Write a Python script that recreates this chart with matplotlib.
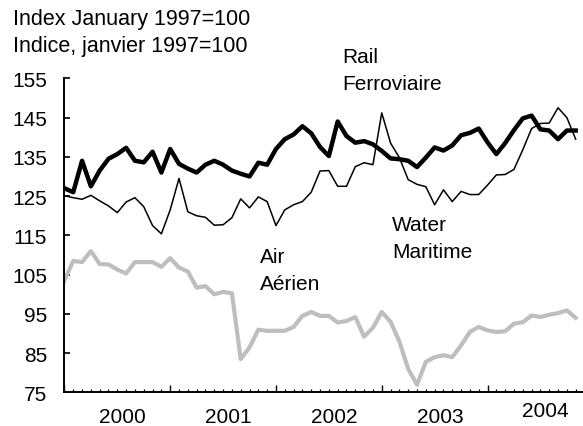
import matplotlib
matplotlib.use("Agg")
import matplotlib.pyplot as plt
import numpy as np

plt.rcParams['font.family'] = ['Liberation Sans', 'DejaVu Sans']
plt.rcParams['font.size'] = 15

# Monthly index values, January 2000 onwards (January 1997 = 100)
rail = [127, 126, 134, 127.5, 131.5, 134.5, 135.7, 137.3, 134, 133.6,
        136.3, 131, 137, 133.2, 132, 131, 133, 134, 133, 131.5,
        130.7, 130, 133.5, 133, 137, 139.5, 140.7, 142.8, 141, 137.5,
        135.2, 144, 140.3, 138.6, 139, 138.2, 136.5, 134.6, 134.4, 134,
        132.4, 134.8, 137.4, 136.6, 137.9, 140.5, 141.1, 142.2, 138.7, 135.7,
        138.5, 141.8, 144.8, 145.5, 142, 141.7, 139.5, 141.7, 141.7]
water = [125.1, 124.6, 124.2, 125.2, 123.8, 122.5, 120.8, 123.5, 124.6, 122.3,
         117.5, 115.4, 121.5, 129.5, 121, 120, 119.6, 117.6, 117.7, 119.5,
         124.3, 122, 124.8, 123.6, 117.5, 121.5, 122.8, 123.6, 126, 131.4,
         131.5, 127.5, 127.5, 132.5, 133.5, 133, 146.2, 138.5, 134.8, 129.2,
         128, 127.4, 122.8, 126.6, 123.6, 126.2, 125.4, 125.4, 127.8, 130.4,
         130.5, 131.8, 136.8, 142.2, 143.5, 143.6, 147.5, 145, 139.5]
air = [103.5, 108.5, 108.2, 111, 107.7, 107.6, 106.3, 105.3, 108.2, 108.2,
       108.2, 107, 109.2, 106.8, 105.8, 101.7, 102.1, 100, 100.6, 100.3,
       83.5, 86.5, 91, 90.7, 90.7, 90.7, 91.7, 94.5, 95.5, 94.5,
       94.5, 92.8, 93.2, 94.2, 89.2, 91.5, 95.5, 93, 88, 81,
       77, 82.8, 84, 84.5, 84, 87, 90.4, 91.7, 90.8, 90.4,
       90.6, 92.5, 92.9, 94.6, 94.2, 94.8, 95.2, 95.9, 94]
years = ['2000', '2001', '2002', '2003', '2004']
yticks = [75, 85, 95, 105, 115, 125, 135, 145, 155]

months = np.arange(len(rail))

fig = plt.figure(figsize=(5.83, 4.27), dpi=100)
ax = fig.add_axes([0.1105, 0.0785, 0.8875, 0.7358])

ax.plot(months, air, color='#bebebe', lw=3.0, solid_joinstyle='round')
ax.plot(months, water, color='black', lw=1.1, solid_joinstyle='round')
ax.plot(months, rail, color='black', lw=3.2, solid_joinstyle='round')

ax.set_xlim(0, 58.7)
ax.set_ylim(75, 155)
ax.set_yticks(yticks)
ax.set_yticklabels([str(v) for v in yticks])
ax.set_xticks(np.arange(0, 59, 12))
ax.set_xticklabels([])
ax.set_xticks(np.arange(0, 59, 1), minor=True)

for side in ['top', 'right']:
    ax.spines[side].set_visible(False)
for side in ['left', 'bottom']:
    ax.spines[side].set_linewidth(1.4)

ax.tick_params(axis='y', direction='in', length=4.5, width=1.2, pad=12.5, labelsize=15)
ax.tick_params(axis='x', which='major', direction='in', length=5, width=1.0)
ax.tick_params(axis='x', which='minor', direction='in', length=2.5, width=0.9)

# year labels sit mid-year under the month ticks
for i, yr in enumerate(years):
    drop = 6 if yr == '2004' else 10.5
    ax.annotate(yr, xy=(6.6 + 12 * i, 0), xycoords=('data', 'axes fraction'),
                xytext=(0, -drop), textcoords='offset points',
                ha='center', va='top', fontsize=15)

W, H = 583, 427


def ftext(x, y, s, size=15):
    fig.text(x / W, 1 - y / H, s, ha='left', va='baseline', fontsize=size)


ftext(12.7, 25, 'Index January 1997=100', 15.5)
ftext(12.7, 52, 'Indice, janvier 1997=100', 15.5)
ftext(342, 63, 'Rail')
ftext(342, 90, 'Ferroviaire')
ftext(260, 263, 'Air')
ftext(260, 290, 'Aérien')
ftext(392, 231, 'Water')
ftext(392, 258, 'Maritime')

fig.savefig('out.png', dpi=100)
